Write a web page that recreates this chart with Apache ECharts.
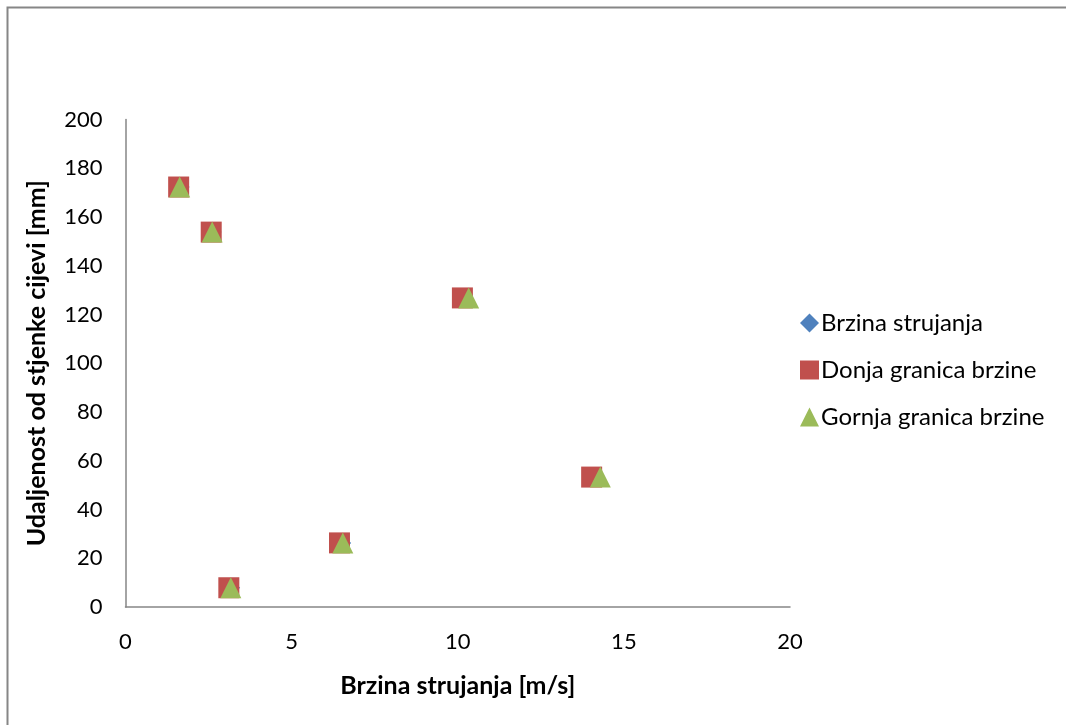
<!DOCTYPE html>
<html>
<head>
<meta charset="utf-8">
<script src="https://cdn.jsdelivr.net/npm/echarts@6/dist/echarts.min.js"></script>
<style>html,body{margin:0;padding:0;background:#fff;}#c{width:1066px;height:725px;}</style>
</head>
<body>
<div id="c"></div>
<script>
const seriesNames = ['Brzina strujanja', 'Donja granica brzine', 'Gornja granica brzine'];
const yValues = [172.3, 153.8, 126.8, 53.3, 26.3, 7.9];
const xBrzina = [1.78, 2.74, 10.3, 14.2, 6.64, 3.3];
const xDonja = [1.6, 2.58, 10.14, 14.03, 6.44, 3.11];
const xGornja = [1.63, 2.61, 10.33, 14.29, 6.54, 3.17];
const xTicks = [0, 5, 10, 15, 20];
const yTicks = [0, 20, 40, 60, 80, 100, 120, 140, 160, 180, 200];

const pairs = (xs) => xs.map((x, i) => [x, yValues[i]]);
const font = 'Lato, "Open Sans", sans-serif';

const chart = echarts.init(document.getElementById('c'));
chart.setOption({
  animation: false,
  backgroundColor: '#fff',
  graphic: [{
    type: 'rect',
    shape: { x: 7.5, y: 7.5, width: 1100, height: 760 },
    style: { fill: 'none', stroke: '#868686', lineWidth: 2 },
    silent: true
  }],
  grid: { left: 125.5, right: 276, top: 119.5, bottom: 118 },
  legend: {
    orient: 'vertical',
    left: 795,
    top: 306,
    itemWidth: 19,
    itemHeight: 19,
    itemGap: 23,
    textStyle: { fontFamily: font, fontSize: 24, color: '#000', padding: [0, 0, 0, -3] },
    data: [
      { name: seriesNames[0], icon: 'diamond', itemStyle: { opacity: 1 } },
      { name: seriesNames[1], icon: 'rect', itemStyle: { opacity: 1 } },
      { name: seriesNames[2], icon: 'triangle', itemStyle: { opacity: 1 } }
    ]
  },
  xAxis: {
    type: 'value',
    min: xTicks[0],
    max: xTicks[xTicks.length - 1],
    interval: 5,
    name: 'Brzina strujanja [m/s]',
    nameLocation: 'middle',
    nameGap: 66,
    nameTextStyle: { fontFamily: font, fontSize: 25, fontWeight: 'bold', color: '#000' },
    axisLine: { lineStyle: { color: '#868686', width: 1.5 } },
    axisTick: { show: false },
    splitLine: { show: false },
    axisLabel: { fontFamily: font, fontSize: 22, color: '#000', margin: 24 }
  },
  yAxis: {
    type: 'value',
    min: yTicks[0],
    max: yTicks[yTicks.length - 1],
    interval: 20,
    name: 'Udaljenost od stjenke cijevi [mm]',
    nameLocation: 'middle',
    nameGap: 76,
    nameTextStyle: { fontFamily: font, fontSize: 25, fontWeight: 'bold', color: '#000' },
    axisLine: { show: true, lineStyle: { color: '#868686', width: 1.5 } },
    axisTick: { show: false },
    splitLine: { show: false },
    axisLabel: { fontFamily: font, fontSize: 22, color: '#000', margin: 23 }
  },
  series: [
    {
      name: seriesNames[0], type: 'scatter', symbol: 'diamond', symbolSize: 10,
      itemStyle: { color: '#4F81BD', opacity: 1 }, data: pairs(xBrzina), z: 2
    },
    {
      name: seriesNames[1], type: 'scatter', symbol: 'rect', symbolSize: 21,
      itemStyle: { color: '#C0504D', opacity: 1 }, data: pairs(xDonja), z: 3
    },
    {
      name: seriesNames[2], type: 'scatter', symbol: 'triangle', symbolSize: [21, 21],
      itemStyle: { color: '#9BBB59', opacity: 1 }, data: pairs(xGornja), z: 4
    }
  ]
});
</script>
</body>
</html>
